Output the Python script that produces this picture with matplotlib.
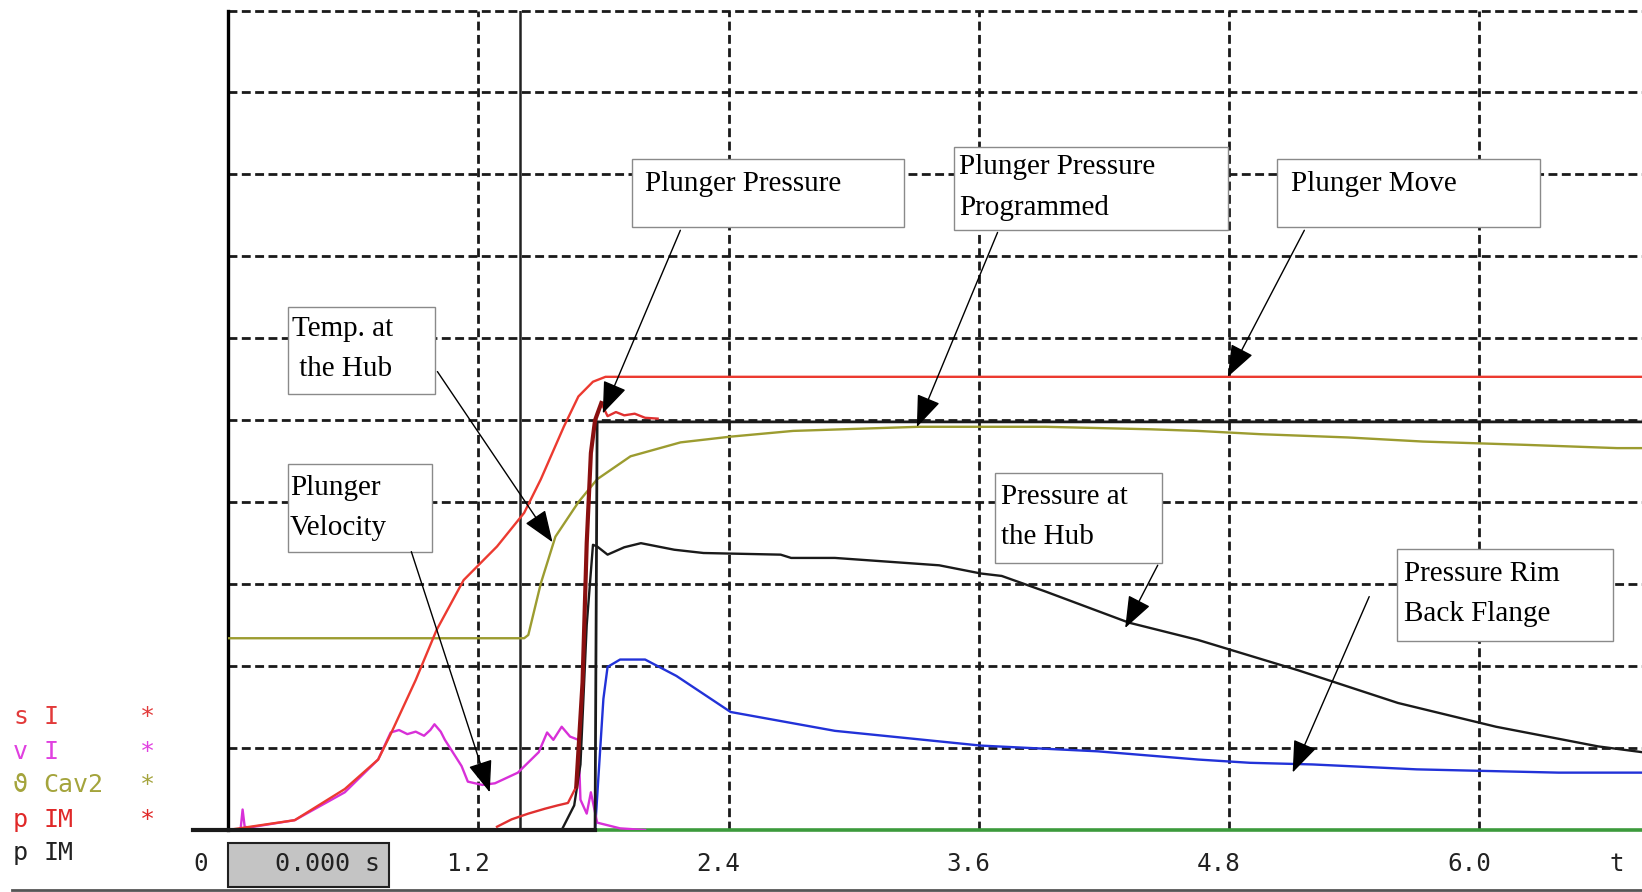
import matplotlib
matplotlib.use('Agg')
import matplotlib.pyplot as plt
from matplotlib.patches import Rectangle
from matplotlib.lines import Line2D
import matplotlib.transforms as mtransforms

# plunger move (s I)
move_t = [0.0, 0.08, 0.32, 0.56, 0.72, 0.78, 0.90, 1.00, 1.13, 1.29, 1.42, 1.50, 1.61, 1.68, 1.75, 1.81, 6.78]
move_v = [0.0, 0.03, 0.12, 0.50, 0.86, 1.17, 1.83, 2.44, 3.05, 3.46, 3.87, 4.28, 4.92, 5.29, 5.47, 5.53, 5.53]

# plunger velocity (v I)
vel_t = [0.0, 0.06, 0.07, 0.08, 0.10, 0.32, 0.56, 0.72, 0.78, 0.82, 0.86, 0.90, 0.94, 0.97, 0.99, 1.02,
         1.04, 1.12, 1.15, 1.22, 1.28, 1.39, 1.49, 1.53, 1.56, 1.60, 1.64, 1.68, 1.69, 1.72, 1.74, 1.77, 1.88, 2.0]
vel_v = [0.0, 0.0, 0.25, 0.04, 0.03, 0.12, 0.46, 0.86, 1.19, 1.22, 1.17, 1.20, 1.15, 1.22, 1.29, 1.20,
         1.10, 0.78, 0.59, 0.55, 0.57, 0.70, 0.95, 1.19, 1.10, 1.26, 1.14, 1.10, 0.37, 0.20, 0.46, 0.09, 0.02, 0.0]

# temperature at the hub (Cav2)
temp_t = [0.0, 1.42, 1.44, 1.50, 1.57, 1.68, 1.77, 1.93, 2.17, 2.41, 2.71, 3.31, 3.92, 4.42, 4.65, 4.95,
          5.37, 5.73, 6.22, 6.66, 6.78]
temp_v = [2.34, 2.34, 2.38, 3.01, 3.58, 4.00, 4.28, 4.56, 4.73, 4.80, 4.87, 4.92, 4.92, 4.89, 4.87, 4.83,
          4.79, 4.74, 4.70, 4.66, 4.66]

# plunger pressure programmed
prog_t = [-0.17, 1.76, 1.77, 6.78]
prog_v = [0.0, 0.0, 4.98, 4.98]

# plunger pressure (p IM)
plp_t = [1.29, 1.36, 1.44, 1.52, 1.58, 1.63, 1.67, 1.70, 1.72, 1.74, 1.76, 1.79, 1.82, 1.86, 1.90, 1.95, 2.00, 2.06]
plp_v = [0.04, 0.13, 0.20, 0.26, 0.30, 0.33, 0.53, 1.8, 3.5, 4.6, 5.0, 5.21, 5.05, 5.10, 5.06, 5.08, 5.03, 5.02]

# pressure at the hub
hub_t = [1.60, 1.66, 1.69, 1.72, 1.75, 1.77, 1.82, 1.90, 1.98, 2.14, 2.28, 2.65, 2.70, 2.91, 3.41, 3.61,
         3.71, 3.92, 4.32, 4.65, 5.13, 5.61, 6.08, 6.57, 6.78]
hub_v = [0.0, 0.3, 0.8, 2.5, 3.48, 3.46, 3.36, 3.45, 3.50, 3.42, 3.38, 3.36, 3.32, 3.32, 3.23, 3.13,
         3.10, 2.91, 2.53, 2.32, 1.95, 1.55, 1.26, 1.02, 0.95]

# pressure rim back flange
rim_t = [1.70, 1.76, 1.78, 1.80, 1.82, 1.88, 2.00, 2.15, 2.41, 2.91, 3.61, 4.17, 4.65, 4.90, 5.20, 5.70, 6.38, 6.78]
rim_v = [0.0, 0.0, 0.8, 1.6, 1.99, 2.08, 2.08, 1.88, 1.44, 1.21, 1.03, 0.96, 0.86, 0.82, 0.80, 0.74, 0.70, 0.70]

x_ticks = [1.2, 2.4, 3.6, 4.8, 6.0]
cursor_t = 1.40

# callouts: text, box (x0, y0, x1, y1), text anchor, arrow tail, arrow head
callouts = [
    ('Plunger Pressure', (1.938, 7.356, 3.243, 8.186), (1.998, 7.88), (2.169, 7.318), (1.797, 5.083)),
    ('Plunger Pressure\nProgrammed', (3.479, 7.318, 4.794, 8.340), (3.504, 7.84), (3.690, 7.292), (3.303, 4.917)),
    ('Plunger Move', (5.030, 7.356, 6.290, 8.186), (5.095, 7.88), (5.161, 7.318), (4.794, 5.530)),
    ('Temp. at\n the Hub', (0.286, 5.326, 0.994, 6.386), (0.306, 5.87), (1.004, 5.594), (1.556, 3.512)),
    ('Plunger\nVelocity', (0.286, 3.397, 0.979, 4.470), (0.296, 3.93), (0.879, 3.397), (1.255, 0.460)),
    ('Pressure at\nthe Hub', (3.680, 3.257, 4.478, 4.355), (3.705, 3.82), (4.458, 3.231), (4.302, 2.465)),
    ('Pressure Rim\nBack Flange', (5.607, 2.312, 6.642, 3.423), (5.638, 2.88), (5.472, 2.848), (5.105, 0.702)),
]

legend_rows = [
    ('s', 'I', '*', '#e23a3a'),
    ('v', 'I', '*', '#e040e0'),
    ('\u03d1', 'Cav2', '*', '#a4a43c'),
    ('p', 'IM', '*', '#e02828'),
    ('p', 'IM', '', '#222222'),
]

W, H = 1642, 892
fig = plt.figure(figsize=(W / 100, H / 100), dpi=100)
ax = fig.add_axes([228 / W, 62 / H, 1 - 228 / W, (830 - 10.5) / H])
ax.set_xlim(0, 6.78)
ax.set_ylim(0, 10)

grid_kw = dict(color='#1a1a1a', lw=2.0, ls=(0, (3.2, 1.6)), zorder=1)
for x in x_ticks:
    ax.axvline(x, **grid_kw)
for y in range(1, 11):
    ax.axhline(y, clip_on=False, **grid_kw)
ax.axvline(cursor_t, color='#222222', lw=1.8, zorder=2)

for s in ['top', 'right', 'bottom']:
    ax.spines[s].set_visible(False)
ax.spines['left'].set_linewidth(2.4)
ax.set_xticks([])
ax.set_yticks([])

lw = 1.7
ax.plot([-0.17, 6.78], [0, 0], color='#3c9a3c', lw=2.6, clip_on=False, zorder=3)
ax.plot(prog_t, prog_v, color='#1a1a1a', lw=2.0, clip_on=False, zorder=4)
ax.plot(prog_t[:2], prog_v[:2], color='#1a1a1a', lw=3.0, clip_on=False, zorder=4)
ax.plot(temp_t, temp_v, color='#9c9c30', lw=lw, zorder=3)
ax.plot(rim_t, rim_v, color='#2232d8', lw=lw, zorder=3)
ax.plot(hub_t, hub_v, color='#1a1a1a', lw=lw, zorder=4)
ax.plot(vel_t, vel_v, color='#d830d8', lw=lw, zorder=3)
ax.plot(move_t, move_v, color='#ec3a30', lw=lw, zorder=3)
ax.plot(plp_t, plp_v, color='#e03030', lw=lw, zorder=4)
ax.plot(plp_t[6:12], plp_v[6:12], color='#8a1010', lw=3.0, zorder=4)

serif = 'Liberation Serif'
for text, box, anchor, tail, head in callouts:
    x0, y0, x1, y1 = box
    ax.add_patch(Rectangle((x0, y0), x1 - x0, y1 - y0, facecolor='white',
                           edgecolor='#8a8a8a', lw=1.0, zorder=6))
    ax.text(anchor[0], anchor[1], text, family=serif, fontsize=21, va='center', ha='left',
            linespacing=1.72, zorder=7)
    ax.annotate('', xy=head, xytext=tail,
                arrowprops=dict(arrowstyle='-|>,head_length=1.0,head_width=0.38', color='black',
                                lw=1.0, mutation_scale=20, shrinkA=0, shrinkB=0),
                zorder=8)

# bottom tick labels and time box
mono = ['DejaVu Sans Mono', 'DejaVu Sans']
trans = mtransforms.blended_transform_factory(ax.transData, fig.transFigure)
label_y = 1 - 864 / H
for x in x_ticks:
    fig.text(x - 0.05, label_y, f'{x:.1f}', transform=trans, family=mono, fontsize=17.5,
             ha='center', va='center', color='#222222')
fig.text(-0.13, label_y, '0', transform=trans, family=mono, fontsize=17.5, ha='center', va='center',
         color='#222222')
fig.text(6.66, label_y, 't', transform=trans, family=mono, fontsize=17.5, ha='center', va='center',
         color='#222222')
fig.patches.append(Rectangle((228 / W, 1 - 887 / H), (389 - 228) / W, 44 / H, transform=fig.transFigure,
                             facecolor='#c4c4c4', edgecolor='#202020', lw=1.5))
fig.text(380 / W, label_y, '0.000 s', family=mono, fontsize=18, ha='right', va='center', color='#222222')
fig.lines.append(Line2D([12 / W, 1], [1 - 890 / H, 1 - 890 / H], transform=fig.transFigure,
                        color='#555555', lw=2))

# channel legend
row_y = [717, 752, 785, 820, 853]
for (sym, name, star, col), yy in zip(legend_rows, row_y):
    fy = 1 - yy / H
    fig.text(13 / W, fy, sym, family=mono, fontsize=18, color=col, ha='left', va='center')
    fig.text(43 / W, fy, name, family=mono, fontsize=18, color=col, ha='left', va='center')
    if star:
        fig.text(140 / W, fy, star, family=mono, fontsize=18, color=col, ha='left', va='center')

fig.savefig('out.png', dpi=100)
